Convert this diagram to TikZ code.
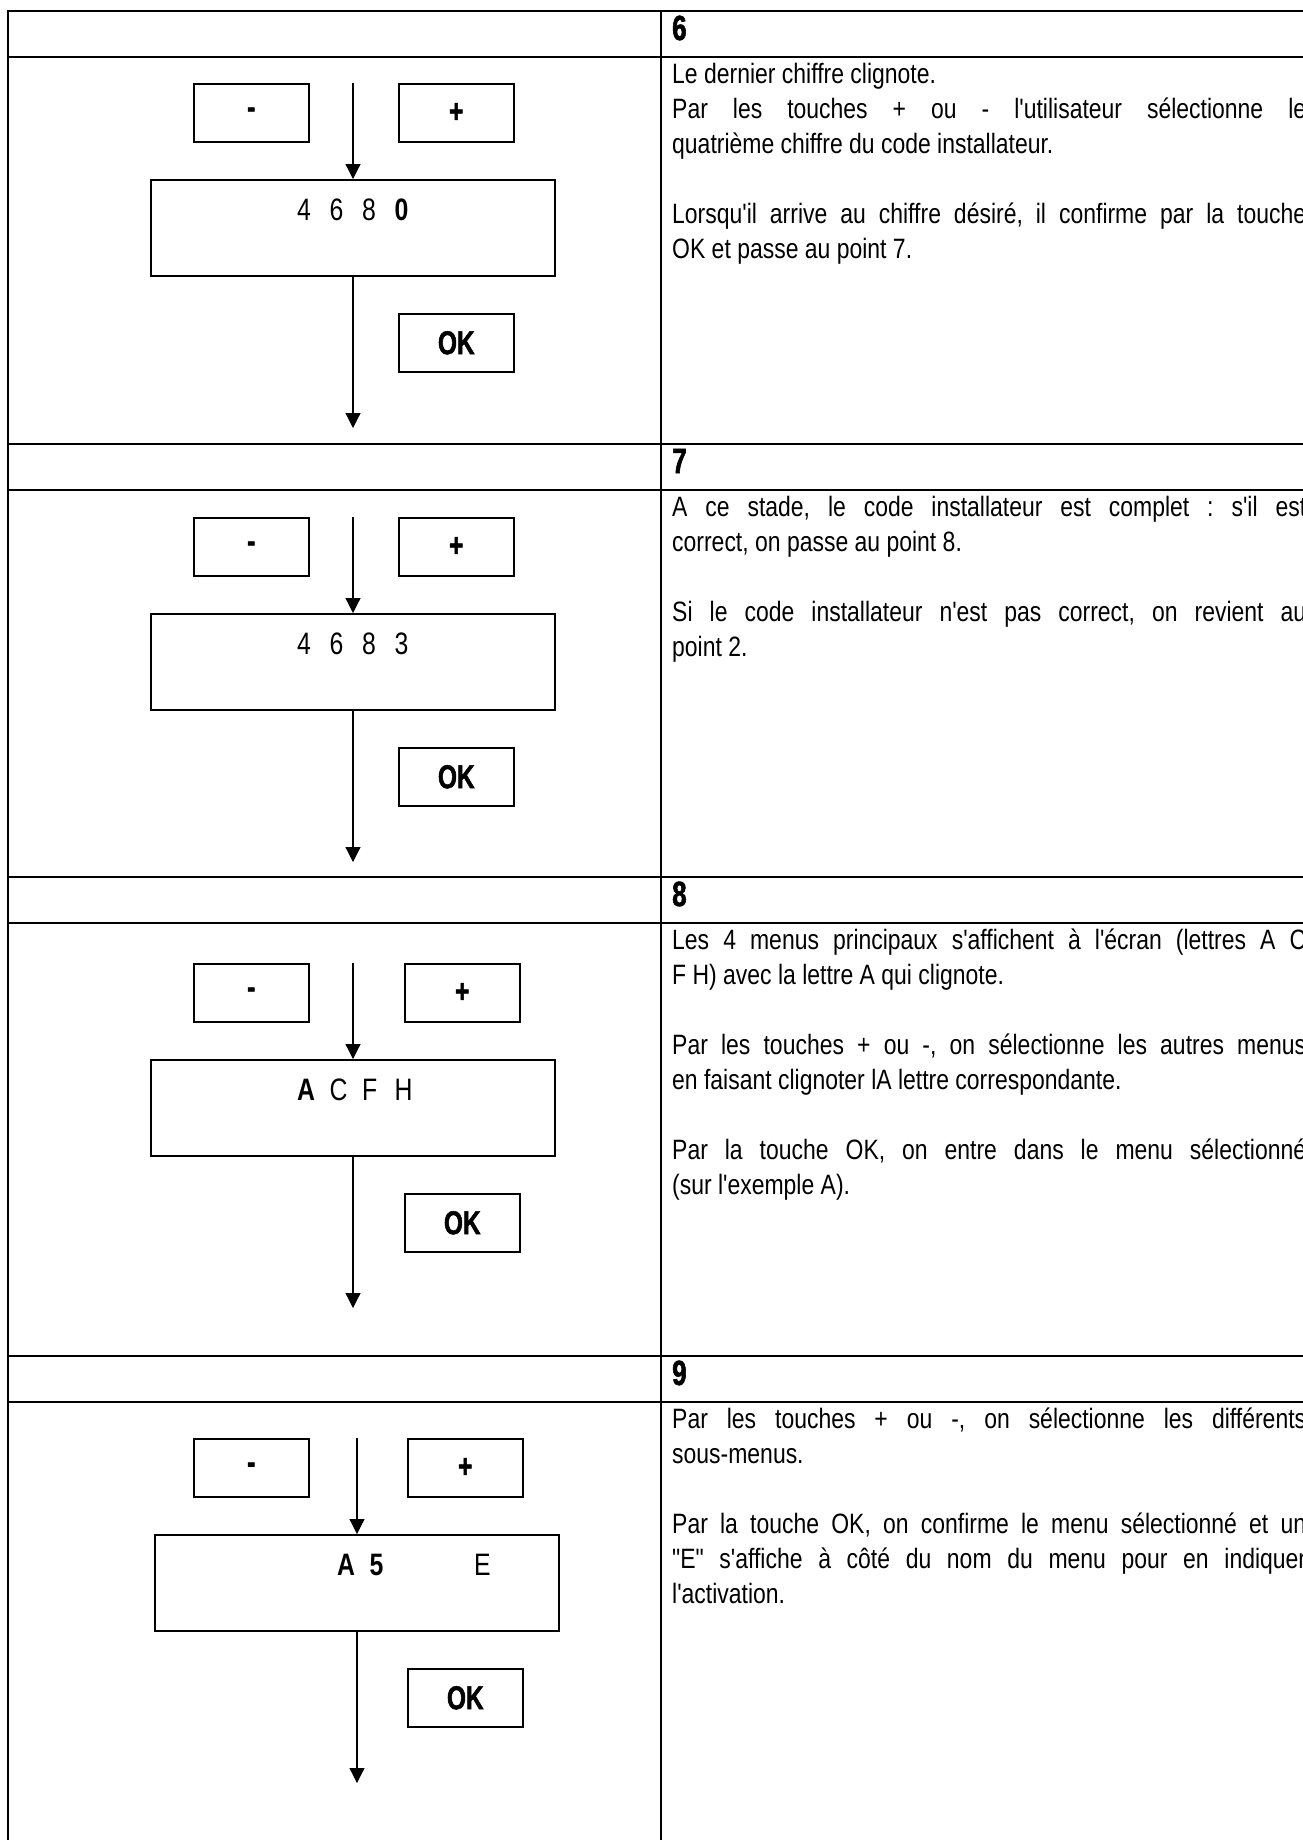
\documentclass[tikz,border=0pt]{standalone}
\usepackage{fontspec}
\usetikzlibrary{arrows.meta}
\newfontfamily\bodyfont{Liberation Sans}[FakeStretch=0.82]
\newfontfamily\keyfont{Liberation Sans}[FakeStretch=0.74, BoldFeatures={FakeBold=1.6}]
\newfontfamily\lcdfont{Liberation Sans}[FakeStretch=0.8]
\newcommand\cell[1]{\makebox[32.5pt][l]{#1}}
\tolerance=9999
\hyphenpenalty=10000
\exhyphenpenalty=10000
\frenchspacing
\tikzset{
  grid/.style = {line width=2pt},
  key/.style = {draw, line width=1.6pt, anchor=north west, minimum width=115pt, minimum height=58pt, inner sep=0pt, font=\keyfont\bfseries\fontsize{33}{33}\selectfont},
  screen/.style = {draw, line width=1.6pt, anchor=north, minimum width=404pt, minimum height=96pt, inner sep=0pt},
  lcd/.style = {anchor=base west, inner sep=0pt, font=\lcdfont\fontsize{31}{31}\selectfont},
  flow/.style = {line width=1.2pt, -{Triangle[length=15pt,width=15pt]}},
  numb/.style = {anchor=base west, inner sep=0pt, font=\keyfont\bfseries\fontsize{35}{35}\selectfont},
  desc/.style = {anchor=north west, inner sep=0pt, text width=634pt, align=justify, font=\bodyfont\fontsize{28}{35}\selectfont\frenchspacing}
}
\begin{document}
\begin{tikzpicture}[x=1pt, y=-1pt]
	\useasboundingbox (0,0) rectangle (1303,1840);
	\fill[white] (0,0) rectangle (1303,1840);
	\clip (0,0) rectangle (1303,1840);
	\foreach \y in {11,57,444,490,877,923,1356,1402}
		\draw[grid] (8,\y) -- (1320,\y);
	\foreach \x in {8,661}
		\draw[grid] (\x,10) -- (\x,1850);

	\node[numb] (n6) at (672,40) {6};
	\node[desc] (t6) at (672,62) {\rule{0pt}{21pt}Le dernier chiffre clignote.\par
		Par les touches + ou - l'utilisateur sélectionne le\linebreak quatrième chiffre du code installateur.\par\vspace{35pt}
		Lorsqu'il arrive au chiffre désiré, il confirme par la touche\linebreak OK et passe au point 7.};
	\node[key] (m6) at (193,83) {-};
	\node[key] (p6) at (398,83) {+};
	\node[screen] (d6) at (353,179) {};
	\node[lcd] (l6) at (297,220) {\cell{4}\cell{6}\cell{8}\textbf{0}};
	\node[key] (k6) at (398,313) {OK};
	\coordinate (s6) at (353,83);
	\coordinate (e6) at (353,428);
	\draw[flow] (s6) -- (d6.north);
	\draw[flow] (d6.south) -- (e6);

	\node[numb] (n7) at (672,473) {7};
	\node[desc] (t7) at (672,495) {\rule{0pt}{21pt}A ce stade, le code installateur est complet : s'il est\linebreak correct, on passe au point 8.\par\vspace{35pt}
		Si le code installateur n'est pas correct, on revient au\linebreak point 2.};
	\node[key] (m7) at (193,517) {-};
	\node[key] (p7) at (398,517) {+};
	\node[screen] (d7) at (353,613) {};
	\node[lcd] (l7) at (297,654) {\cell{4}\cell{6}\cell{8}3};
	\node[key] (k7) at (398,747) {OK};
	\coordinate (s7) at (353,517);
	\coordinate (e7) at (353,862);
	\draw[flow] (s7) -- (d7.north);
	\draw[flow] (d7.south) -- (e7);

	\node[numb] (n8) at (672,906) {8};
	\node[desc] (t8) at (672,928) {\rule{0pt}{21pt}Les 4 menus principaux s'affichent à l'écran (lettres A C\linebreak F H) avec la lettre A qui clignote.\par\vspace{35pt}
		Par les touches + ou -, on sélectionne les autres menus\linebreak en faisant clignoter lA lettre correspondante.\par\vspace{35pt}
		Par la touche OK, on entre dans le menu sélectionné\linebreak (sur l'exemple A).};
	\node[key] (m8) at (193,963) {-};
	\node[key] (p8) at (404,963) {+};
	\node[screen] (d8) at (353,1059) {};
	\node[lcd] (l8) at (297,1100) {\cell{\textbf{A}}\cell{C}\cell{F}H};
	\node[key] (k8) at (404,1193) {OK};
	\coordinate (s8) at (353,963);
	\coordinate (e8) at (353,1308);
	\draw[flow] (s8) -- (d8.north);
	\draw[flow] (d8.south) -- (e8);

	\node[numb] (n9) at (672,1385) {9};
	\node[desc] (t9) at (672,1407) {\rule{0pt}{21pt}Par les touches + ou -, on sélectionne les différents\linebreak sous-menus.\par\vspace{35pt}
		Par la touche OK, on confirme le menu sélectionné et un\linebreak "E" s'affiche à côté du nom du menu pour en indiquer\linebreak l'activation.};
	\node[key] (m9) at (193,1438) {-};
	\node[key] (p9) at (407,1438) {+};
	\node[screen] (d9) at (357,1534) {};
	\node[lcd] (l9) at (337,1575) {\cell{\textbf{A}}\textbf{5}};
	\node[lcd] (x9) at (474,1575) {E};
	\node[key] (k9) at (407,1668) {OK};
	\coordinate (s9) at (357,1438);
	\coordinate (e9) at (357,1783);
	\draw[flow] (s9) -- (d9.north);
	\draw[flow] (d9.south) -- (e9);
\end{tikzpicture}
\end{document}
